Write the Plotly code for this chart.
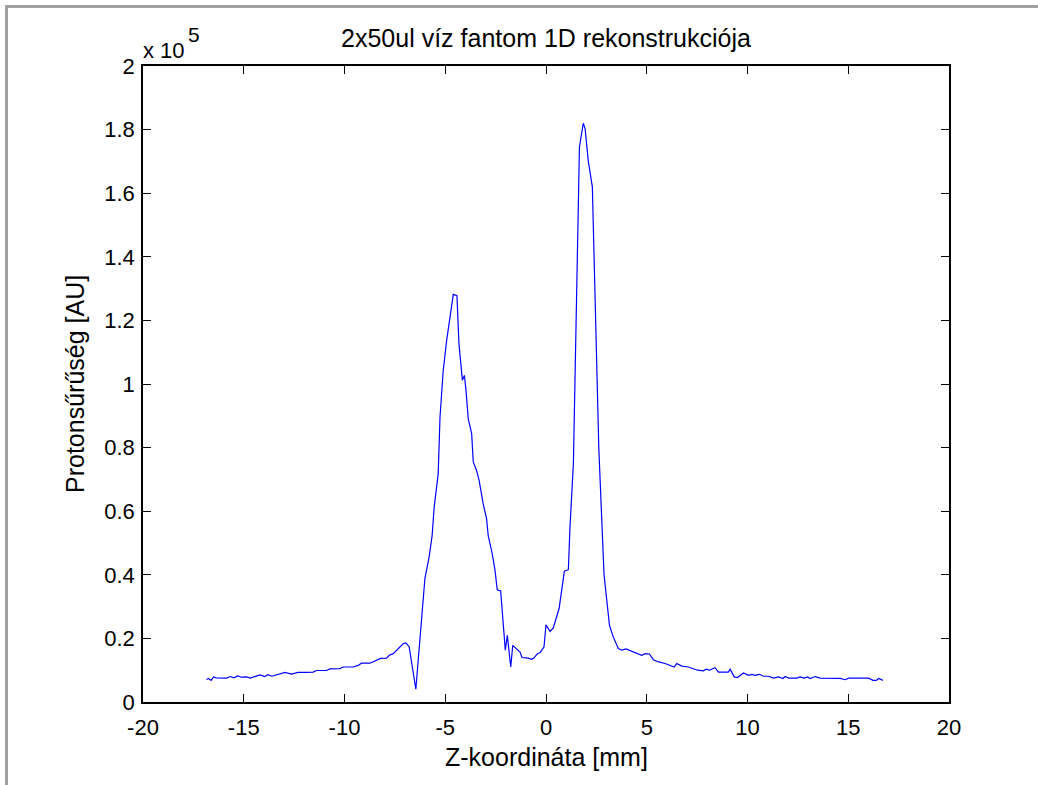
import plotly.graph_objects as go

# Z coordinate along the phantom [mm]
z_mm = [
    -16.85, -16.75, -16.62, -16.5, -16.36, -16.1, -15.86, -15.66, -15.5, -15.3,
    -15.1, -14.86, -14.67, -14.45, -14.2, -13.96, -13.8, -13.6, -13.3, -12.96,
    -12.63, -12.3, -11.9, -11.56, -11.39, -10.9, -10.73, -10.23, -10.07, -9.57,
    -9.32, -9.16, -8.74, -8.49, -8.21, -7.91, -7.78, -7.58, -7.41, -7.2,
    -7.08, -6.95, -6.79, -6.46, -6.26, -6.01, -5.8, -5.65, -5.55, -5.35,
    -5.26, -5.1, -4.93, -4.77, -4.6, -4.42, -4.32, -4.15, -4.05, -3.97,
    -3.86, -3.69, -3.61, -3.45, -3.32, -3.12, -2.95, -2.87, -2.67, -2.53,
    -2.42, -2.25, -2.12, -2.02, -1.92, -1.75, -1.65, -1.29, -1.19, -0.88,
    -0.71, -0.6, -0.43, -0.3, -0.1, 0.0, 0.2, 0.36, 0.65, 0.78,
    0.91, 1.11, 1.19, 1.36, 1.66, 1.85, 1.94, 2.1, 2.3, 2.62,
    2.88, 3.15, 3.34, 3.59, 3.76, 3.97, 4.26, 4.5, 4.75, 4.92,
    5.13, 5.33, 5.58, 5.91, 6.24, 6.36, 6.49, 6.74, 7.07, 7.24,
    7.52, 7.81, 7.95, 8.11, 8.39, 8.56, 9.05, 9.14, 9.34, 9.5,
    9.8, 10.05, 10.22, 10.38, 10.6, 10.79, 11.04, 11.29, 11.54, 11.76,
    11.87, 12.04, 12.45, 12.61, 12.81, 12.98, 13.11, 13.36, 13.61, 14.6,
    14.85, 15.02, 16.01, 16.23, 16.39, 16.51, 16.72,
]

# Reconstructed proton density [AU]
density = [
    7100, 7400, 6800, 7900, 7600, 7500, 7500, 8000, 7600, 8200,
    7800, 7900, 7500, 8000, 8500, 8000, 8600, 8100, 8700, 9300,
    8800, 9300, 9300, 9400, 9900, 9900, 10400, 10500, 11000, 11000,
    11500, 12200, 12200, 12900, 13700, 13800, 14700, 15200, 16300, 17500,
    18400, 18600, 17300, 4000, 20400, 38800, 45600, 52400, 61300, 71800,
    89600, 104300, 113700, 121100, 128200, 127800, 112700, 101200, 102700, 98000,
    89100, 84400, 75500, 72900, 69700, 62400, 57700, 52400, 46700, 41400,
    35300, 34900, 24700, 16300, 21000, 11000, 17800, 15700, 14000, 13800,
    13400, 13800, 15200, 15500, 17300, 24300, 22200, 23300, 29400, 35100,
    41100, 41600, 55000, 75000, 174600, 182000, 180300, 170000, 162000, 80000,
    40000, 24100, 20400, 16800, 16300, 16700, 16000, 15200, 14700, 15200,
    15100, 13300, 12600, 12100, 11300, 11000, 12100, 11300, 11000, 10700,
    10000, 9800, 10300, 10000, 10800, 9400, 9400, 10300, 7900, 7700,
    9100, 8400, 8700, 8400, 8700, 8100, 8100, 7500, 7900, 7400,
    8000, 7500, 7500, 7900, 7500, 7900, 7400, 8000, 7500, 7400,
    7000, 7500, 7500, 6800, 6800, 7400, 6800,
]

# Axis ticks (density ticks are in units of 10^5)
x_ticks = [-20, -15, -10, -5, 0, 5, 10, 15, 20]
x_tick_labels = ["-20", "-15", "-10", "-5", "0", "5", "10", "15", "20"]
y_ticks = [0, 0.2, 0.4, 0.6, 0.8, 1.0, 1.2, 1.4, 1.6, 1.8, 2.0]
y_tick_labels = ["0", "0.2", "0.4", "0.6", "0.8", "1", "1.2", "1.4", "1.6", "1.8", "2"]

Y_SCALE = 1e5  # shown as "x 10^5" above the axis
EXP_BASE = "x 10"
EXP_POWER = "5"

TITLE = "2x50ul víz fantom 1D rekonstrukciója"
X_LABEL = "Z-koordináta [mm]"
Y_LABEL = "Protonsűrűség [AU]"

W, H = 1038, 785
ML, MR, MT, MB = 143, 89, 66, 83
PW, PH = W - ML - MR, H - MT - MB

FONT = "Liberation Sans, Arial, sans-serif"
FS_TICK = 22
FS_LABEL = 25


def px_to_paper_x(px):
    return (px - ML) / PW


def px_to_paper_y(py):
    return 1 - (py - MT) / PH


def text_font(size):
    return dict(family=FONT, size=size, color="black")


fig = go.Figure(
    go.Scatter(
        x=z_mm,
        y=[v / Y_SCALE for v in density],
        mode="lines",
        line=dict(color="#0000ff", width=1.2),
        showlegend=False,
    )
)

axis_common = dict(
    showgrid=False,
    zeroline=False,
    showline=True,
    linecolor="black",
    linewidth=1.5,
    mirror="ticks",
    ticks="inside",
    ticklen=8,
    tickwidth=1,
    tickcolor="black",
    tickfont=text_font(FS_TICK),
)

fig.update_xaxes(range=[-20, 20], tickmode="array", tickvals=x_ticks,
                 ticktext=x_tick_labels, ticklabelstandoff=5, **axis_common)
fig.update_yaxes(range=[0, 2], tickmode="array", tickvals=y_ticks,
                 ticktext=y_tick_labels, ticklabelstandoff=2, **axis_common)

fig.update_layout(
    width=W,
    height=H,
    margin=dict(l=ML, r=MR, t=MT, b=MB),
    paper_bgcolor="white",
    plot_bgcolor="white",
    font=text_font(FS_TICK),
    title=dict(
        text=TITLE,
        font=text_font(FS_LABEL),
        x=0.5,
        xref="paper",
        xanchor="center",
        y=1 - 38 / H,
        yref="container",
        yanchor="middle",
    ),
    annotations=[
        dict(
            text=X_LABEL, xref="paper", yref="paper",
            x=0.5, y=px_to_paper_y(757), xanchor="center", yanchor="middle",
            showarrow=False, font=text_font(FS_LABEL),
        ),
        dict(
            text=Y_LABEL, xref="paper", yref="paper", textangle=-90,
            x=px_to_paper_x(75), y=0.5, xanchor="center", yanchor="middle",
            showarrow=False, font=text_font(FS_LABEL),
        ),
        # axis multiplier: base and raised exponent, both full size
        dict(
            text=EXP_BASE, xref="paper", yref="paper",
            x=px_to_paper_x(141), y=px_to_paper_y(50), xanchor="left", yanchor="middle",
            showarrow=False, font=text_font(FS_TICK),
        ),
        dict(
            text=EXP_POWER, xref="paper", yref="paper",
            x=px_to_paper_x(186), y=px_to_paper_y(35), xanchor="left", yanchor="middle",
            showarrow=False, font=text_font(FS_TICK - 1),
        ),
    ],
    shapes=[
        # grey frame edges on the left and top of the figure
        dict(type="line", xref="paper", yref="paper",
             x0=px_to_paper_x(6.5), x1=px_to_paper_x(6.5),
             y0=px_to_paper_y(5), y1=px_to_paper_y(800),
             line=dict(color="#a0a0a0", width=3)),
        dict(type="line", xref="paper", yref="paper",
             x0=px_to_paper_x(5), x1=px_to_paper_x(1045),
             y0=px_to_paper_y(6.5), y1=px_to_paper_y(6.5),
             line=dict(color="#a0a0a0", width=3)),
    ],
)

fig.write_html("out.html")
